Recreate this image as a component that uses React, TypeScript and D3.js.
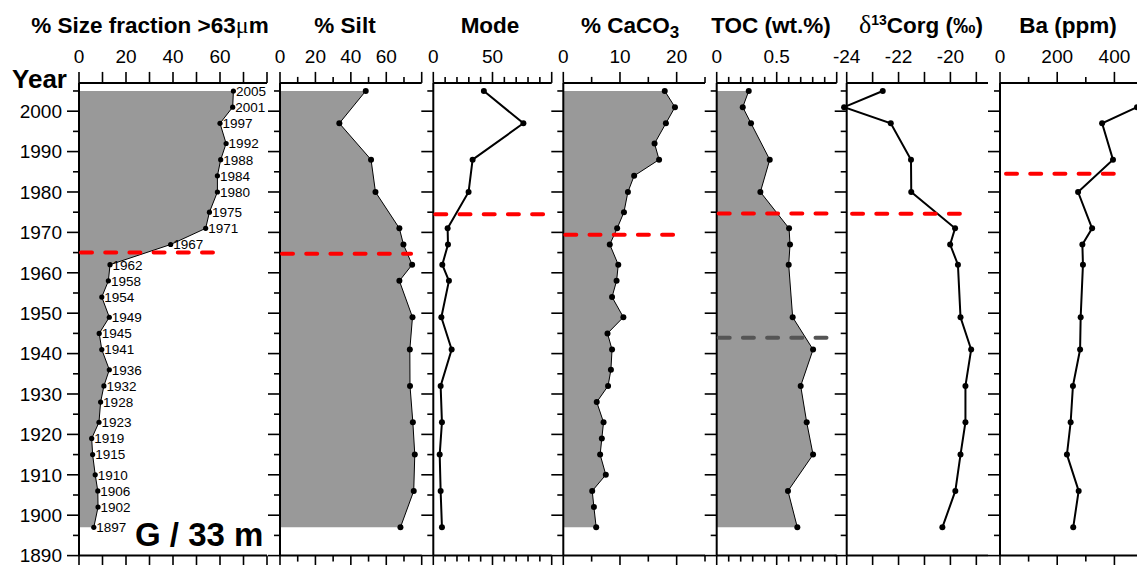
import * as d3 from 'd3';

const FONT = "'Liberation Sans', Arial, Helvetica, sans-serif";
const SERIF = "'Liberation Serif', 'DejaVu Serif', serif";

// sampling years
const sizeYears = [2005, 2001, 1997, 1992, 1988, 1984, 1980, 1975, 1971, 1967, 1962, 1958, 1954, 1949, 1945, 1941, 1936, 1932, 1928, 1923, 1919, 1915, 1910, 1906, 1902, 1897];
const siltYears = [2005, 1997, 1988, 1980, 1971, 1967, 1962, 1958, 1949, 1941, 1932, 1923, 1915, 1906, 1897];
const tocYears = [2005, 2001, 1997, 1988, 1980, 1971, 1967, 1962, 1949, 1941, 1932, 1923, 1915, 1906, 1897];
const baYears = [2001, 1997, 1988, 1980, 1971, 1967, 1962, 1949, 1941, 1932, 1923, 1915, 1906, 1897];

// series
const sizeValues = [65.7, 65.4, 60, 62.6, 60.3, 58.9, 58.9, 55.5, 53.9, 39, 13.2, 12.5, 9.7, 12.9, 8.6, 9.7, 12.9, 10.6, 9.2, 8.5, 5.4, 5.8, 6.9, 8, 8.1, 6.3];
const siltValues = [48.4, 33.5, 51.4, 53.9, 67.4, 69.7, 74.6, 67.4, 74.8, 73.3, 73.4, 75, 76.1, 75.5, 68];
const modeValues = [42.7, 76.1, 33.2, 29.8, 12.1, 12.4, 7.6, 13.2, 6.8, 15.5, 6.2, 7.3, 5.4, 6.2, 7.3];
const caco3Values = [17.9, 19.7, 18.1, 16.1, 16.9, 12.5, 11.4, 10.7, 9.5, 8.2, 9.7, 9.4, 8.6, 10.6, 7.8, 8.6, 8.4, 7.9, 5.9, 7.1, 6.8, 6.5, 7.5, 5.1, 5.4, 5.8];
const tocValues = [0.267, 0.217, 0.286, 0.442, 0.364, 0.603, 0.611, 0.6, 0.633, 0.803, 0.7, 0.75, 0.803, 0.594, 0.672];
const d13cValues = [-22.61, -24.1, -22.3, -21.52, -21.51, -19.82, -20.01, -19.71, -19.61, -19.2, -19.42, -19.42, -19.61, -19.81, -20.31];
const baValues = [479, 357, 395, 273, 322, 288, 290, 282, 280, 255, 247, 234, 275, 256];

// axis tick labels
const yearTickLabels = [1890, 1900, 1910, 1920, 1930, 1940, 1950, 1960, 1970, 1980, 1990, 2000];
const sizeTickLabels = [0, 20, 40, 60];
const siltTickLabels = [0, 20, 40, 60];
const modeTickLabels = [0, 50];
const caco3TickLabels = [0, 10, 20];
const tocTickLabels = [0, 0.5];
const d13cTickLabels = [-24, -22, -20];
const baTickLabels = [0, 200, 400];

// horizontal marker lines (year, panel, value span, kind)
const markPanels = ['size', 'silt', 'mode', 'caco3', 'toc', 'toc', 'd13c', 'ba'];
const markYears = [1965, 1964.7, 1974.5, 1969.4, 1974.7, 1943.9, 1974.6, 1984.5];
const markFrom = [0, 0, 0, 0, 0, 0, -23.87, 14];
const markTo = [57, 74, 94, 19.7, 0.93, 0.93, -19.56, 402];
const markKind = ['red', 'red', 'red', 'red', 'red', 'grey', 'red', 'red'];

const y = d3.scaleLinear().domain([1890, 2007]).range([555.6, 82.9]);
const yearTicks = d3.range(1890, 2006, 5);
const TOP = y(2007);
const BOTTOM = y(1890);

type Panel = {
  id: string;
  range: [number, number];
  domain: [number, number];
  step: number;
  tickMax: number;
  major: number;
  labels: number[];
  years: number[];
  values: number[];
  fill: boolean;
  lw: number;
  r: number;
  titleX: number;
};

const panels: Panel[] = [
  { id: 'size', range: [79, 267], domain: [0, 80], step: 10, tickMax: 80, major: 10, labels: sizeTickLabels, years: sizeYears, values: sizeValues, fill: true, lw: 1, r: 2.6, titleX: 150 },
  { id: 'silt', range: [280, 421.7], domain: [0, 80], step: 10, tickMax: 80, major: 20, labels: siltTickLabels, years: siltYears, values: siltValues, fill: true, lw: 1, r: 3, titleX: 345 },
  { id: 'mode', range: [433.3, 551.7], domain: [0, 100], step: 10, tickMax: 100, major: 50, labels: modeTickLabels, years: siltYears, values: modeValues, fill: false, lw: 2, r: 3, titleX: 490 },
  { id: 'caco3', range: [563.3, 705], domain: [0, 25], step: 5, tickMax: 25, major: 10, labels: caco3TickLabels, years: sizeYears, values: caco3Values, fill: true, lw: 1, r: 3, titleX: 630 },
  { id: 'toc', range: [716.7, 836.7], domain: [0, 1], step: 0.1, tickMax: 1, major: 0.5, labels: tocTickLabels, years: tocYears, values: tocValues, fill: true, lw: 1, r: 3, titleX: 771 },
  { id: 'd13c', range: [846.7, 988], domain: [-24, -18.55], step: 1, tickMax: -19, major: 1, labels: d13cTickLabels, years: tocYears, values: d13cValues, fill: false, lw: 2, r: 3, titleX: 921 },
  { id: 'ba', range: [1000, 1137.3], domain: [0, 480], step: 100, tickMax: 400, major: 200, labels: baTickLabels, years: baYears, values: baValues, fill: false, lw: 2, r: 3, titleX: 1068 },
];

const near = (a: number, b: number) => Math.abs(a - b) < 1e-6;
const isMajor = (v: number, p: Panel) => {
  const k = (v - p.domain[0]) / p.major;
  return near(k, Math.round(k));
};
const fmt = (v: number) => String(+v.toFixed(2));

function Title({ p }: { p: Panel }) {
  const common = { x: p.titleX, y: 33, textAnchor: 'middle' as const, fontSize: 22.5, fontWeight: 700 };
  if (p.id === 'size')
    return (
      <text {...common}>
        % Size fraction &gt;63<tspan fontFamily={SERIF} fontWeight={400} fontSize={24}>μ</tspan>m
      </text>
    );
  if (p.id === 'silt') return <text {...common}>% Silt</text>;
  if (p.id === 'mode') return <text {...common}>Mode</text>;
  if (p.id === 'caco3')
    return (
      <text {...common}>
        % CaCO<tspan dy={5} fontSize={17}>3</tspan>
      </text>
    );
  if (p.id === 'toc') return <text {...common}>TOC (wt.%)</text>;
  if (p.id === 'd13c')
    return (
      <text {...common}>
        <tspan fontFamily={SERIF} fontWeight={400} fontSize={26}>δ</tspan>
        <tspan dy={-8} fontSize={14}>13</tspan>
        <tspan dy={8}>Corg (‰)</tspan>
      </text>
    );
  return <text {...common}>Ba (ppm)</text>;
}

function PanelView({ p }: { p: Panel }) {
  const x = d3.scaleLinear().domain(p.domain).range(p.range);
  const ticks = d3.range(p.domain[0], p.tickMax + p.step / 2, p.step).map(v => +v.toFixed(6));
  const pts: [number, number][] = p.years.map((yr, i) => [yr, p.values[i]]);
  const line = d3.line<[number, number]>().x(d => x(d[1])).y(d => y(d[0]));
  const area = d3.area<[number, number]>().y(d => y(d[0])).x0(x(p.domain[0])).x1(d => x(d[1]));
  const [x0, x1] = p.range;
  const marks = markPanels.map((id, i) => ({ id, i })).filter(m => m.id === p.id);

  return (
    <g>
      <Title p={p} />
      {p.fill && <path d={area(pts) ?? ''} fill="#999999" />}

      {/* top axis */}
      <line x1={x0} x2={x1} y1={TOP} y2={TOP} stroke="#000" strokeWidth={2} />
      {ticks.map(v => (
        <line key={'t' + v} x1={x(v)} x2={x(v)} y1={TOP} y2={TOP - (isMajor(v, p) ? 11 : 6)} stroke="#000" strokeWidth={1.6} />
      ))}
      {p.labels.map(v => (
        <text key={'l' + v} x={x(v)} y={63} textAnchor="middle" fontSize={19}>{fmt(v)}</text>
      ))}

      {/* bottom axis */}
      <line x1={x0} x2={x1} y1={BOTTOM} y2={BOTTOM} stroke="#000" strokeWidth={2} />
      {ticks.map(v => (
        <line key={'b' + v} x1={x(v)} x2={x(v)} y1={BOTTOM} y2={BOTTOM + (isMajor(v, p) ? 11 : 6)} stroke="#000" strokeWidth={1.6} />
      ))}

      {/* left axis */}
      <line x1={x0} x2={x0} y1={TOP} y2={BOTTOM} stroke="#000" strokeWidth={2} />
      {yearTicks.map(t => (
        <line key={'y' + t} x1={x0} x2={x0 - (t % 10 === 0 ? 12 : 6)} y1={y(t)} y2={y(t)} stroke="#000" strokeWidth={1.6} />
      ))}

      <path d={line(pts) ?? ''} fill="none" stroke="#000" strokeWidth={p.lw} />
      {pts.map(d => (
        <circle key={'c' + d[0]} cx={x(d[1])} cy={y(d[0])} r={p.r} fill="#000" />
      ))}
      {p.id === 'size' &&
        pts.map(d => (
          <text key={'n' + d[0]} x={x(d[1]) + 2.5} y={y(d[0])} dy="0.36em" fontSize={13.5}>{d[0]}</text>
        ))}

      {marks.map(({ i }) => (
        <line
          key={'m' + i}
          x1={x(markFrom[i]) + 2}
          x2={x(markTo[i])}
          y1={y(markYears[i])}
          y2={y(markYears[i])}
          stroke={markKind[i] === 'red' ? '#ff0000' : '#555555'}
          strokeWidth={4}
          strokeDasharray="11,13.2"
          strokeLinecap="round"
        />
      ))}
    </g>
  );
}

export default function App() {
  return (
    <svg width={1137} height={565} style={{ position: 'absolute', left: 0, top: 0, background: '#fff' }} fontFamily={FONT}>
      <rect width={1137} height={565} fill="#fff" />
      <text x={67} y={88} textAnchor="end" fontSize={26} fontWeight={700}>Year</text>
      {yearTickLabels.map(t => (
        <text key={t} x={62} y={y(t)} dy="0.36em" textAnchor="end" fontSize={19}>{t}</text>
      ))}
      {panels.map(p => (
        <PanelView key={p.id} p={p} />
      ))}
      <text x={135} y={546} fontSize={33} fontWeight={700}>G / 33 m</text>
    </svg>
  );
}
